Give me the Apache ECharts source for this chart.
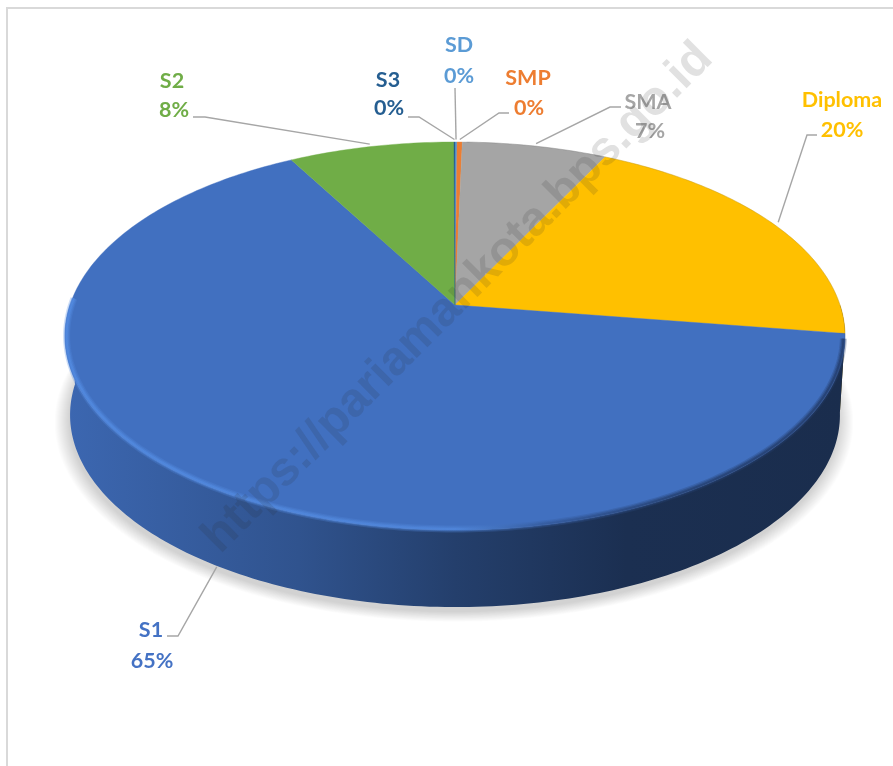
<!DOCTYPE html>
<html><head><meta charset="utf-8">
<style>html,body{margin:0;padding:0;background:#fff}#c{width:893px;height:766px}</style>
<script src="https://cdn.jsdelivr.net/npm/echarts@6/dist/echarts.min.js"></script>
</head><body><div id="c"></div>
<script>
const categories = ['SD','SMP','SMA','Diploma','S1','S2','S3'];
const values = [0.1, 0.25, 7, 20, 64.6, 8, 0.05];
const sliceColors = ['#5b9bd5','#ed7d31','#a5a5a5','#ffc000','#4170c0','#70ad47','#255e91'];
const labelColors = ['#5b9bd5','#ed7d31','#a5a5a5','#ffc000','#4472c4','#70ad47','#255e91'];

// label layout: name centre, percent centre, elbow of the leader, leader start
const labelLayout = [
  {n:[459,45], p:[459,76], path:[[455,88]]},
  {n:[528,78], p:[529,108], path:[[509,113],[499,113]]},
  {n:[648,102], p:[650,131], path:[[621,107],[610,107]]},
  {n:[842,100], p:[842,130], path:[[817,135],[807,135]]},
  {n:[151,630], p:[152,661], path:[[167,636],[178,636]], front:true, nudge:-2},
  {n:[172,81], p:[174,110], path:[[193,117],[205,117]]},
  {n:[388,80], p:[389,108], path:[[408,117],[419,117]]}
];

// perspective view of the disc
const V = {cx:455, cy:305, d:385, b:-140.3, c:0.1598, dropY:79, shrink:0.987, midY:336};
function topPt(deg, r){
  r = r===undefined?1:r;
  const a = deg*Math.PI/180, u = r*Math.sin(a), v = r*Math.cos(a), w = 1+V.c*v;
  return [V.cx+V.d*u/w, (V.cy+V.b*v)/w];
}
function lowPt(deg, r){
  const p = topPt(deg, r);
  return [V.cx+(p[0]-V.cx)*V.shrink, V.midY+V.dropY+(p[1]-V.midY)*0.99];
}
const total = values.reduce((s,v)=>s+v,0);
function range(i){
  let s=0; for(let k=0;k<i;k++) s+=values[k];
  return [s/total*360,(s+values[i])/total*360];
}
function arc(fn,a0,a1,r){
  const pts=[], n=Math.max(2,Math.ceil(Math.abs(a1-a0)/1));
  for(let i=0;i<=n;i++) pts.push(fn(a0+(a1-a0)*i/n,r));
  return pts;
}
function shade(hex,f){
  const n=parseInt(hex.slice(1),16);
  return 'rgb('+[n>>16,(n>>8)&255,n&255].map(c=>Math.round(c*f)).join(',')+')';
}
const LG = echarts.graphic.LinearGradient;
function sideFill(col){
  return new LG(65,0,845,0,[
    {offset:0,color:shade(col,0.92)},
    {offset:0.3,color:shade(col,0.74)},
    {offset:0.5,color:shade(col,0.56)},
    {offset:0.72,color:shade(col,0.42)},
    {offset:1,color:shade(col,0.40)}],true);
}
function rimGrad(){
  return new LG(65,0,845,0,[
    {offset:0,color:'rgb(82,138,224)'},
    {offset:0.5,color:'rgb(80,134,218)'},
    {offset:0.62,color:'rgb(52,90,156)'},
    {offset:0.78,color:'rgb(38,66,116)'},
    {offset:1,color:'rgb(36,62,110)'}],true);
}
function renderSide(params, api){
  const i=params.dataIndex; api.value(0);
  const [a0,a1]=range(i), s=Math.max(a0,90), e=Math.min(a1,270), kids=[];
  if(i===0){
    // soft ground shadow built from nested translucent outlines
    for(let k=14;k>=0;k--){
      const r=1+k*0.0026;
      const pts=arc(lowPt,0,360,r).map(p=>[p[0]-1,p[1]+5]);
      kids.push({type:'polygon',shape:{points:pts},style:{fill:'rgba(0,0,0,0.012)'}});
    }
  }
  if(e>s){
    const pts=arc(topPt,s,e).concat(arc(lowPt,e,s));
    kids.push({type:'polygon',shape:{points:pts},style:{fill:sideFill(sliceColors[i])}});
  }
  return {type:'group',children:kids};
}
function renderTop(params, api){
  const i=params.dataIndex; api.value(0);
  const [a0,a1]=range(i);
  const kids=[{type:'polygon',shape:{points:[[V.cx,V.cy]].concat(arc(topPt,a0,a1))},
    style:{fill:sliceColors[i],stroke:sliceColors[i],lineWidth:0.4}}];
  if(i===values.length-1){
    [[7,0.28],[4.5,0.45],[2,0.75]].forEach(l=>{
      kids.push({type:'polyline',shape:{points:arc(topPt,100,272,0.996)},
        style:{fill:null,stroke:rimGrad(),lineWidth:l[0],opacity:l[1]}});
    });
    kids.push({type:'polyline',shape:{points:arc(topPt,2,100,1)},
      style:{fill:null,stroke:'rgba(60,60,60,0.14)',lineWidth:1}});
  }
  return {type:'group',children:kids};
}
function renderLabel(params, api){
  const i=params.dataIndex, L=labelLayout[i];
  const pct=Math.round(api.value(0)/total*100)+'%';
  const [a0,a1]=range(i), mid=(a0+a1)/2+(L.nudge||0);
  const anchor=L.front?lowPt(mid,1.003):topPt(mid,1.018);
  const font='bold 21.5px Lato, "Noto Sans", sans-serif';
  return {type:'group',children:[
    {type:'polyline',shape:{points:L.path.concat([anchor])},style:{fill:null,stroke:'#a6a6a6',lineWidth:1.4}},
    {type:'text',style:{x:L.n[0],y:L.n[1],text:categories[i],fill:labelColors[i],font,align:'center',verticalAlign:'middle'}},
    {type:'text',style:{x:L.p[0],y:L.p[1],text:pct,fill:labelColors[i],font,align:'center',verticalAlign:'middle'}}
  ]};
}
const rows=values.map(v=>[v]);
const base={type:'custom',coordinateSystem:'none',data:rows,silent:true,animation:false,clip:false};
const chart=echarts.init(document.getElementById('c'),null,{renderer:'canvas'});
chart.setOption({
  animation:false,
  backgroundColor:'#fff',
  graphic:[
    {type:'line',z:0,silent:true,shape:{x1:7,y1:8,x2:7,y2:766},style:{stroke:'#d9d9d9',lineWidth:2}},
    {type:'line',z:0,silent:true,shape:{x1:6,y1:8,x2:893,y2:8},style:{stroke:'#d9d9d9',lineWidth:2}},
    {type:'text',z:100,silent:true,x:458,y:298,rotation:Math.PI/4,
      style:{text:'https://pariamankota.bps.go.id',font:'bold 48px "Liberation Sans", Arial, sans-serif',
        fill:'rgba(40,40,40,0.14)',align:'center',verticalAlign:'middle'}}
  ],
  series:[
    Object.assign({},base,{name:'side',renderItem:renderSide}),
    Object.assign({},base,{name:'top',renderItem:renderTop}),
    Object.assign({},base,{name:'labels',renderItem:renderLabel})
  ]
});
</script></body></html>
